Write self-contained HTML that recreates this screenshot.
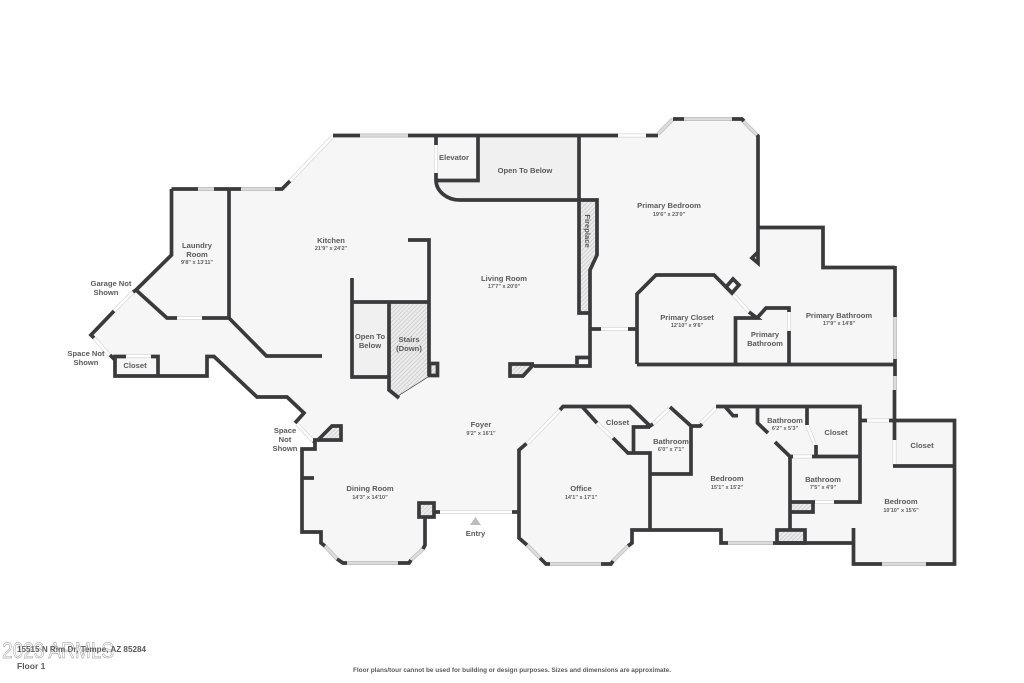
<!DOCTYPE html>
<html lang="en">
<head>
<meta charset="utf-8">
<title>Floor 1 plan</title>
<style>
html,body{margin:0;padding:0;background:#fff;width:1024px;height:683px;overflow:hidden}
svg{display:block}
text{font-family:"Liberation Sans",sans-serif;font-weight:bold;fill:#5a5a5a;font-size:7.600px;text-anchor:middle}
text.d{font-size:5.500px;fill:#5f5f5f}
.wall{fill:none;stroke:#3a3a3c;stroke-width:3.700;stroke-linejoin:miter;stroke-linecap:butt}
.thin{fill:none;stroke:#3a3a3c;stroke-width:.7}
.wo{fill:none;stroke:#bdbdbd;stroke-width:4}
.wi{fill:none;stroke:#dcdcdc;stroke-width:2.6}
.do{fill:none;stroke:#d6d6d6;stroke-width:4}
.di{fill:none;stroke:#fff;stroke-width:2.6}
</style>
</head>
<body>
<svg width="1024" height="683" viewBox="0 0 1024 683" xmlns="http://www.w3.org/2000/svg">
<defs>
<pattern id="h" width="3" height="3" patternUnits="userSpaceOnUse" patternTransform="rotate(45)">
<rect width="3" height="3" fill="#ececec"/>
<rect width="1" height="3" fill="#d0d0d0"/>
</pattern>
</defs>
<rect width="1024" height="683" fill="#fff"/>

<!-- floor -->
<polygon fill="#f6f6f6" points="333,135 658,135 673,118 742,118 758,135 758,227 823,227 823,267 895,267 895,420 955,420 955,564 853,564 853,543 721,543 721,530 632,530 632,543 611,564 546,564 519,538 519,512 425,512 425,545 409,563 343,563 321,543 321,532 302,532 302,449 315,449 313,441 297,424 304,413 287,397 257,397 214,356 207,356 207,376 115,376 115,360 91,335 136,290 171,255 171,189 282,189"/>

<!-- open to below -->
<path d="M478,135H579V200H460A24,20 0 0 1 436,180H478Z" fill="#f0f0f0"/>
<rect x="352" y="302" width="37" height="75" fill="#f0f0f0"/>

<!-- hatched -->
<polygon fill="url(#h)" points="389,302 429,302 429,376 398,396 389,390"/>
<polyline class="thin" points="428,377 398,396"/>
<polygon fill="url(#h)" points="579,200 597,200 597,255 590,270 590,313 579,313"/>
<polygon fill="url(#h)" points="510,364 534,364 523,376 510,376"/>
<polygon fill="url(#h)" points="317,441 332,426 341,426 341,440"/>
<rect x="418" y="502" width="16" height="15" fill="url(#h)"/>
<rect x="790" y="502" width="23" height="10" fill="url(#h)"/>
<rect x="776" y="530" width="29" height="13" fill="url(#h)"/>
<rect x="428" y="363" width="10" height="13" fill="url(#h)"/>

<!-- gray windows -->
<g>
<path class="wo" d="M360,135.500H408M198,189H214M241,189H275M658,134L673,119M684,119H732M742,120L757,135M895,317V359M895,376V390M325,546L337,559M347,563H398M411,560L423,549M527,545L540,558M550,564H601M613,561L628,546M728,543H773M882,564H926"/>
<path class="wi" d="M360,135.500H408M198,189H214M241,189H275M658,134L673,119M684,119H732M742,120L757,135M895,317V359M895,376V390M325,546L337,559M347,563H398M411,560L423,549M527,545L540,558M550,564H601M613,561L628,546M728,543H773M882,564H926"/>
</g>

<!-- door-style openings -->
<g>
<path class="do" d="M333,136L290,181M133,292L114,311M94,338L110,356M177,318H202M126,356H151M297,424L313,441M440,512H512M528,443L560,410M597,423L613,438M653,424L670,408M700,424L716,408M731,292L749,312M618,135.500H646M601,329H628M436,145V173M789,312V331M807,425L815,445M793,456.500H812M815,502H834M867,420.500H889M894.500,440V465"/>
<path class="di" d="M333,136L290,181M133,292L114,311M94,338L110,356M177,318H202M126,356H151M297,424L313,441M440,512H512M528,443L560,410M597,423L613,438M653,424L670,408M700,424L716,408M731,292L749,312M618,135.500H646M601,329H628M436,145V173M789,312V331M807,425L815,445M793,456.500H812M815,502H834M867,420.500H889M894.500,440V465"/>
</g>

<!-- walls -->
<g class="wall">
<path d="M333,135.500H360M408,135.500H618M646,135.500H658M673,119H684M732,119H742L744,121M757,135L758,136V263L752,258L758,252"/>
<path d="M436,135V145M436,173V180A24,20 0 0 0 460,200H597V255L590,270V366H534"/>
<path d="M436,180.500H478V135M579,135V313H590M577,364V357.500H590"/>
<path d="M534,364L523,376H510V364H534"/>
<path d="M591,329H601M628,329H637"/>
<!-- laundry / kitchen -->
<path d="M171.500,189H198M214,189H241M275,189H282L290,181M171.500,189V255L136,290L167,318H177M202,318H229M229,189V318L266.500,356H322"/>
<path d="M136,290L133,292M114,311L91,335L94,338M110,355L115,360"/>
<path d="M126,356.500H115V376H207V356.500H214L257,397H287L304,413L295,423"/>
<path d="M151,356.500H158V376"/>
<!-- core -->
<path d="M408,240H429V376M352,278V377H389M352,302H429M389,302V390L399,398"/>
<rect x="429.500" y="363.500" width="8" height="12"/>
<!-- dining -->
<path d="M313,441L315,442V449H302V532H321V543L325,546M337,559L343,563H347M398,563H409L411,560M423,549L425,545V517M302,478H314"/>
<path d="M317,441L332,426H341V440H313"/>
<rect x="419" y="503" width="15" height="14"/>
<path d="M434,512H440M512,512H519"/>
<!-- office -->
<path d="M526.500,443.500L519,450V538L527,545M540,558L546,564H550M601,564H611L613,561M628,546L632,543V530H721V543H728"/>
<path d="M560,410L563,406.500H630L650,426L653,424M582.500,407L597,423M613,438L628,453H650V530M633.500,453V427H650"/>
<path d="M670,407L691,426V474H650M691,426H700L702,424M716,406.500H860V502H834M725,406.500L733,415.700H738"/>
<!-- east bathrooms -->
<path d="M757.500,406V423L768,433M775,442L790,456.500V530M790,456.500H793M812,456.500H860M807,406V425M816,445V456.500"/>
<path d="M815,502H790M790,512H813V502"/>
<rect x="777" y="530" width="28" height="13"/>
<path d="M773,543H853.500M853.500,528V564H882M926,564H954.500V420.500H889M860,420.500H867M894.500,390V440M893,466H955"/>
<!-- primary suite -->
<path d="M895,267.500H823V227.500H758M895,266V317M895,359V376M637,364.500H895M637,364V294L656,275H714L731,292M749,312L757,318H735.500V364M757,318L766,308H789V312M789,331V364"/>
<path d="M726,287L733,279L739,285L732,293Z"/>
</g>

<!-- entry triangle -->
<polygon points="470,525 481,525 475.500,517" fill="#bcbcbc"/>

<!-- labels -->
<text x="111" y="286">Garage Not</text><text x="106" y="295">Shown</text>
<text x="197" y="248">Laundry</text><text x="197" y="257">Room</text><text class="d" x="197" y="264">9'8" x 13'11"</text>
<text x="331" y="243">Kitchen</text><text class="d" x="331" y="250">21'9" x 24'2"</text>
<text x="454" y="160">Elevator</text>
<text x="525" y="173">Open To Below</text>
<text x="669" y="208">Primary Bedroom</text><text class="d" x="669" y="216">19'6" x 23'0"</text>
<text x="0" y="0" transform="translate(585,231) rotate(90)">Fireplace</text>
<text x="504" y="281">Living Room</text><text class="d" x="504" y="288">17'7" x 20'0"</text>
<text x="687" y="320">Primary Closet</text><text class="d" x="687" y="327">12'10" x 9'6"</text>
<text x="839" y="318">Primary Bathroom</text><text class="d" x="839" y="325">17'9" x 14'8"</text>
<text x="765" y="337">Primary</text><text x="765" y="346">Bathroom</text>
<text x="370" y="339">Open To</text><text x="370" y="348">Below</text>
<text x="409" y="342">Stairs</text><text x="409" y="351">(Down)</text>
<text x="86" y="356">Space Not</text><text x="86" y="365">Shown</text>
<text x="135" y="368">Closet</text>
<text x="285" y="433">Space</text><text x="285" y="442">Not</text><text x="285" y="451">Shown</text>
<text x="481" y="427">Foyer</text><text class="d" x="481" y="435">9'2" x 16'1"</text>
<text x="370" y="491">Dining Room</text><text class="d" x="370" y="499">14'3" x 14'10"</text>
<text x="475.500" y="536">Entry</text>
<text x="617.500" y="425">Closet</text>
<text x="671" y="444">Bathroom</text><text class="d" x="671" y="451">6'0" x 7'1"</text>
<text x="581" y="491">Office</text><text class="d" x="581" y="499">14'1" x 17'1"</text>
<text x="727" y="481">Bedroom</text><text class="d" x="727" y="489">15'1" x 15'2"</text>
<text x="785" y="423">Bathroom</text><text class="d" x="785" y="430">6'2" x 5'3"</text>
<text x="836" y="435">Closet</text>
<text x="922" y="448">Closet</text>
<text x="823" y="482">Bathroom</text><text class="d" x="823" y="489">7'5" x 4'9"</text>
<text x="901" y="504">Bedroom</text><text class="d" x="901" y="512">10'10" x 15'6"</text>

<!-- footer -->
<text x="17" y="652" style="text-anchor:start;font-size:8.500px" textLength="129" lengthAdjust="spacingAndGlyphs">15515 N Rim Dr, Tempe, AZ 85284</text>
<text x="17" y="669" style="text-anchor:start;font-size:8.500px">Floor 1</text>
<text x="2" y="658" style="text-anchor:start;font-size:22px;font-weight:normal;fill:none;stroke:#8a8a8a;stroke-width:.45" textLength="112" lengthAdjust="spacingAndGlyphs">2023 ARMLS</text>
<text x="512" y="672" style="font-size:6.200px" textLength="318" lengthAdjust="spacingAndGlyphs">Floor plans/tour cannot be used for building or design purposes. Sizes and dimensions are approximate.</text>
</svg>
</body>
</html>
